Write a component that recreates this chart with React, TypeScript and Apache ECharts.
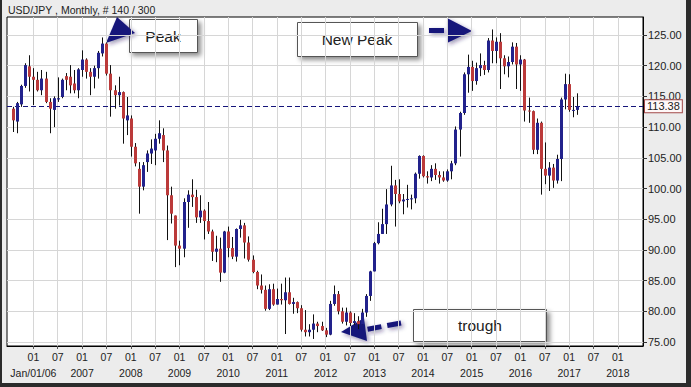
import React, { useEffect, useRef } from 'react';
import * as echarts from 'echarts';

// month index counted from Jan 2006 (0); first candle = Aug 2005
const startMonth = -5;
const chartTitle = 'USD/JPY , Monthly, # 140 / 300';
const lastPrice = 113.38;

const opens = [
  113.0, 110.9, 113.7, 116.7, 119.9,
  118.2, 117.7, 116.0, 117.9, 114.1,
  112.8, 114.5, 114.9, 118.3, 118.2,
  117.1, 116.0, 119.3, 121.0, 119.0,
  118.2, 119.6, 122.0, 123.6, 118.7,
  116.0, 115.2, 115.7, 111.1, 111.4,
  106.8, 103.2, 100.3, 104.3, 105.7,
  106.2, 108.1, 108.7, 106.2, 98.9,
  95.6, 90.7, 90.2, 97.8, 99.0,
  98.6, 95.3, 96.4, 94.7, 93.0,
  89.7, 90.2, 86.3, 93.0, 90.3,
  88.9, 93.4, 94.0, 91.2, 88.4,
  86.4, 84.2, 83.5, 80.4, 83.6,
  81.1, 82.0, 81.8, 83.1, 81.2,
  81.5, 80.5, 77.0, 76.6, 77.0,
  78.0, 77.6, 76.9, 76.2, 81.2,
  82.8, 80.0, 78.3, 79.8, 78.1,
  78.4, 77.9, 79.8, 82.5, 86.5,
  91.1, 92.6, 94.2, 97.4, 100.5,
  99.1, 97.9, 98.2, 98.3, 98.4,
  102.4, 105.3, 102.0, 101.8, 103.2,
  102.2, 101.8, 101.3, 102.8, 104.1,
  109.6, 112.3, 118.6, 119.8, 117.5,
  119.6, 120.1, 119.3, 124.1, 122.4,
  123.9, 121.2, 119.9, 120.6, 123.1,
  120.2, 121.0, 112.7, 112.6, 106.3,
  110.7, 103.2, 102.1, 103.4, 101.3,
  104.8, 114.5, 117.0, 112.8, 112.8,
];

const closes = [
  111.1, 113.9, 116.7, 120.1, 118.2,
  117.7, 116.0, 117.9, 114.1, 113.0,
  114.7, 114.7, 117.7, 117.7, 116.8,
  116.0, 119.4, 121.0, 119.0, 118.2,
  119.6, 122.1, 123.6, 118.7, 116.0,
  115.2, 115.7, 111.4, 111.9, 106.8,
  104.1, 100.3, 103.8, 105.7, 106.5,
  108.1, 109.0, 106.2, 98.9, 95.9,
  90.7, 90.2, 97.8, 99.0, 98.6,
  95.3, 96.4, 94.7, 93.0, 89.7,
  90.2, 86.3, 93.0, 90.3, 88.9,
  93.4, 94.0, 91.2, 88.4, 86.4,
  84.2, 83.5, 80.4, 83.6, 81.1,
  82.0, 81.8, 83.1, 81.2, 81.5,
  80.5, 77.0, 76.6, 77.0, 78.0,
  77.6, 76.9, 76.2, 81.2, 82.8,
  80.0, 78.3, 79.8, 78.1, 78.4,
  77.9, 79.8, 82.5, 86.5, 91.1,
  92.6, 94.2, 97.4, 100.5, 99.1,
  97.9, 98.2, 98.3, 98.4, 102.4,
  105.3, 102.0, 101.8, 103.2, 102.2,
  101.8, 101.3, 102.8, 104.1, 109.6,
  112.3, 118.6, 119.8, 117.5, 119.6,
  120.1, 119.3, 124.1, 122.4, 123.9,
  121.2, 119.9, 120.6, 123.1, 120.2,
  121.0, 112.7, 112.6, 106.3, 110.7,
  103.2, 102.1, 103.4, 101.3, 104.8,
  114.5, 117.0, 112.8, 112.8, 113.38,
];

const highs = [
  113.3, 114.1, 116.9, 120.4, 121.7,
  119.6, 119.0, 119.3, 119.0, 114.7,
  115.0, 118.1, 117.9, 118.8, 120.1,
  119.3, 119.6, 122.5, 121.2, 119.6,
  120.0, 122.4, 124.6, 123.8, 120.1,
  116.8, 118.2, 115.8, 114.9, 111.9,
  107.4, 104.3, 104.3, 106.2, 108.0,
  108.9, 111.1, 109.8, 107.0, 100.3,
  95.6, 91.5, 98.4, 99.7, 101.5,
  99.8, 98.9, 96.6, 97.8, 93.3,
  92.3, 92.0, 93.1, 93.8, 92.1,
  93.5, 94.9, 94.4, 92.2, 89.1,
  86.6, 86.0, 84.2, 84.4, 84.5,
  83.7, 84.5, 85.5, 85.5, 82.2,
  81.6, 81.0, 80.2, 77.9, 79.5,
  78.3, 78.3, 77.3, 81.7, 84.2,
  83.3, 80.6, 80.6, 80.0, 79.7,
  79.2, 80.4, 82.8, 86.6, 91.3,
  94.5, 96.7, 99.9, 103.7, 101.4,
  101.5, 99.1, 100.6, 99.0, 102.6,
  105.4, 105.4, 102.8, 103.8, 104.1,
  102.8, 102.8, 103.1, 104.5, 110.1,
  112.5, 118.9, 121.8, 120.8, 120.5,
  122.0, 120.8, 124.5, 125.9, 124.6,
  125.3, 121.7, 121.5, 123.8, 123.7,
  121.7, 121.1, 114.8, 112.7, 111.4,
  110.9, 107.5, 104.3, 104.0, 105.5,
  114.8, 118.7, 118.6, 114.9, 115.5,
];

const lows = [
  109.2, 109.0, 113.3, 116.4, 115.8,
  113.6, 115.8, 115.2, 113.9, 109.0,
  110.0, 114.1, 114.7, 116.0, 115.5,
  115.5, 114.7, 118.2, 117.9, 115.2,
  116.3, 117.9, 121.5, 118.4, 111.7,
  113.0, 113.5, 107.3, 108.7, 105.2,
  103.6, 95.9, 99.7, 102.7, 104.0,
  103.8, 107.3, 104.3, 91.6, 94.3,
  87.2, 87.5, 88.8, 93.6, 97.0,
  94.4, 94.4, 91.7, 92.6, 88.2,
  88.0, 84.8, 86.2, 88.8, 88.5,
  88.1, 92.0, 88.6, 88.1, 86.2,
  83.6, 82.9, 80.1, 80.2, 80.9,
  81.1, 81.1, 76.3, 81.1, 79.6,
  79.7, 76.7, 75.9, 75.9, 75.5,
  76.6, 76.8, 75.8, 76.1, 80.9,
  79.5, 78.0, 77.7, 77.6, 77.8,
  77.1, 77.9, 79.1, 81.7, 86.5,
  90.9, 92.6, 92.6, 97.1, 93.8,
  97.6, 95.8, 96.9, 96.6, 97.6,
  101.6, 101.8, 100.8, 101.2, 101.4,
  100.8, 101.1, 101.1, 101.5, 103.8,
  105.2, 112.0, 115.6, 115.9, 116.9,
  118.3, 118.5, 118.9, 120.4, 120.4,
  116.2, 118.6, 118.1, 120.2, 116.2,
  115.9, 110.9, 110.7, 105.6, 105.6,
  99.0, 100.7, 99.6, 100.1, 100.8,
  101.2, 112.9, 112.5, 111.6, 112.0,
];

const yTicks = [75, 80, 85, 90, 95, 100, 105, 110, 115, 120, 125];
const xTicks = [0, 6, 12, 18, 24, 30, 36, 42, 48, 54, 60, 66, 72, 78, 84, 90, 96, 102, 108, 114, 120, 126, 132, 138, 144];
const yearTicks = [0, 12, 24, 36, 48, 60, 72, 84, 96, 108, 120, 132, 144];
const yearLabels = ['Jan/01/06', '2007', '2008', '2009', '2010', '2011', '2012', '2013', '2014', '2015', '2016', '2017', '2018'];

const FONT = 'Arial, "Liberation Sans", sans-serif';
const UP = '#22228c';
const DOWN = '#bb3a3a';
const NAVY = '#15157a';

export default function App() {
  const ref = useRef<HTMLDivElement>(null);

  useEffect(() => {
    if (!ref.current) return;
    const chart = echarts.init(ref.current, undefined, { renderer: 'svg' });
    const data = opens.map((o, i) => [startMonth + i, o, closes[i], lows[i], highs[i]]);

    const boxStyle = {
      fill: '#ffffff',
      stroke: '#555555',
      lineWidth: 1,
      shadowBlur: 5,
      shadowOffsetX: 3,
      shadowOffsetY: 3,
      shadowColor: 'rgba(0,0,0,0.45)',
    };
    const arrowStyle = {
      fill: NAVY,
      shadowBlur: 4,
      shadowOffsetX: 2,
      shadowOffsetY: 2,
      shadowColor: 'rgba(40,30,90,0.45)',
    };
    const labelText = (x: number, y: number, text: string) => ({
      type: 'text',
      x,
      y,
      silent: true,
      style: { text, fill: '#222', font: `15.5px ${FONT}`, align: 'center', verticalAlign: 'middle' },
    });

    const option: any = {
      animation: false,
      backgroundColor: '#ececec',
      title: {
        text: chartTitle,
        left: 8,
        top: 4,
        padding: 0,
        textStyle: { fontSize: 10.5, fontWeight: 'normal', color: '#222', fontFamily: FONT },
      },
      grid: {
        left: 7,
        right: 48,
        top: 17,
        bottom: 41,
        show: true,
        backgroundColor: '#ffffff',
        borderColor: '#000',
        borderWidth: 1,
      },
      xAxis: [
        {
          type: 'value',
          min: -6.5,
          max: 150.2,
          axisLine: { show: true, onZero: false, lineStyle: { color: '#000' } },
          axisTick: { show: true, length: 3, inside: false, customValues: xTicks, lineStyle: { color: '#555' } },
          splitLine: { show: true, lineStyle: { color: '#d6d6d6', width: 1 } },
          axisLabel: {
            customValues: xTicks,
            showMinLabel: true,
            showMaxLabel: true,
            margin: 5,
            color: '#222',
            fontSize: 10.5,
            fontFamily: FONT,
            formatter: (v: number) => (Math.round(v) % 12 === 0 ? '01' : '07'),
          },
        },
        {
          type: 'value',
          position: 'bottom',
          min: -6.5,
          max: 150.2,
          axisLine: { show: false, onZero: false },
          axisTick: { show: false },
          splitLine: { show: false },
          axisLabel: {
            customValues: yearTicks,
            showMinLabel: true,
            showMaxLabel: true,
            margin: 21,
            color: '#222',
            fontSize: 10.5,
            fontFamily: FONT,
            formatter: (v: number) => yearLabels[Math.round(v / 12)],
          },
        },
      ],
      yAxis: {
        type: 'value',
        position: 'right',
        min: 74.35,
        max: 127.93,
        axisLine: { show: true, onZero: false, lineStyle: { color: '#000' } },
        axisTick: { show: true, length: 4, inside: false, customValues: yTicks, lineStyle: { color: '#333' } },
        splitLine: { show: true, lineStyle: { color: '#d6d6d6', width: 1 } },
        axisLabel: {
          customValues: yTicks,
          showMinLabel: true,
          showMaxLabel: true,
          margin: 5,
          color: '#222',
          fontSize: 11,
          fontFamily: FONT,
          formatter: (v: number) => v.toFixed(2),
        },
      },
      series: [
        {
          type: 'custom',
          xAxisIndex: 0,
          clip: true,
          data,
          encode: { x: 0, y: [1, 2, 3, 4] },
          renderItem: (params: any, api: any) => {
            const x = api.value(0);
            const o = api.value(1);
            const c = api.value(2);
            const l = api.value(3);
            const h = api.value(4);
            const pO = api.coord([x, o]);
            const pC = api.coord([x, c]);
            const pL = api.coord([x, l]);
            const pH = api.coord([x, h]);
            const cx = Math.round(pO[0]) + 0.5;
            const top = Math.min(pO[1], pC[1]);
            const hgt = Math.max(1, Math.abs(pO[1] - pC[1]));
            return {
              type: 'group',
              children: [
                {
                  type: 'line',
                  shape: { x1: cx, y1: pH[1], x2: cx, y2: pL[1] },
                  style: { stroke: '#111', lineWidth: 1 },
                },
                {
                  type: 'rect',
                  shape: { x: cx - 1.5, y: top, width: 3, height: hgt },
                  style: { fill: c >= o ? UP : DOWN },
                },
              ],
            };
          },
          markLine: {
            silent: true,
            symbol: 'none',
            z: 1,
            lineStyle: { color: NAVY, type: [5, 3], width: 1 },
            label: {
              show: true,
              position: 'end',
              distance: 2,
              formatter: lastPrice.toFixed(2),
              color: '#222',
              fontSize: 11,
              fontFamily: FONT,
              backgroundColor: '#fff8f8',
              borderColor: '#a04848',
              borderWidth: 1,
              padding: [1, 2, 0, 2],
            },
            data: [{ yAxis: lastPrice }],
          },
        },
      ],
      graphic: [
        // dark outer frame
        { type: 'rect', silent: true, shape: { x: 0, y: 0, width: 2, height: 387 }, style: { fill: '#2b2b2b' } },
        { type: 'rect', silent: true, shape: { x: 686, y: 0, width: 5, height: 387 }, style: { fill: '#2b2b2b' } },
        { type: 'rect', silent: true, shape: { x: 0, y: 383, width: 691, height: 4 }, style: { fill: '#2b2b2b' } },
        // Peak
        { type: 'rect', silent: true, shape: { x: 129.5, y: 19.5, width: 68, height: 33 }, style: boxStyle },
        labelText(163, 36, 'Peak'),
        { type: 'polygon', silent: true, shape: { points: [[117, 17], [135, 33], [106, 43]] }, style: arrowStyle },
        // New Peak
        { type: 'rect', silent: true, shape: { x: 297.5, y: 22.5, width: 120, height: 34 }, style: boxStyle },
        labelText(357, 39.5, 'New Peak'),
        { type: 'rect', silent: true, shape: { x: 429, y: 28, width: 15, height: 5 }, style: arrowStyle },
        { type: 'polygon', silent: true, shape: { points: [[447, 18], [472, 31], [447, 43]] }, style: arrowStyle },
        // trough
        { type: 'rect', silent: true, shape: { x: 413.5, y: 309.5, width: 133, height: 32 }, style: boxStyle },
        labelText(480, 325.5, 'trough'),
        {
          type: 'line',
          silent: true,
          shape: { x1: 401, y1: 323, x2: 366, y2: 329.5 },
          style: { stroke: NAVY, lineWidth: 5, lineDash: [14, 6], shadowBlur: 4, shadowOffsetX: 2, shadowOffsetY: 2, shadowColor: 'rgba(40,30,90,0.45)' },
        },
        { type: 'polygon', silent: true, shape: { points: [[341, 332], [364, 318], [367, 341]] }, style: arrowStyle },
      ],
    };

    chart.setOption(option);
    return () => chart.dispose();
  }, []);

  return (
    <div
      ref={ref}
      style={{ position: 'fixed', left: 0, top: 0, width: 691, height: 387 }}
    />
  );
}
